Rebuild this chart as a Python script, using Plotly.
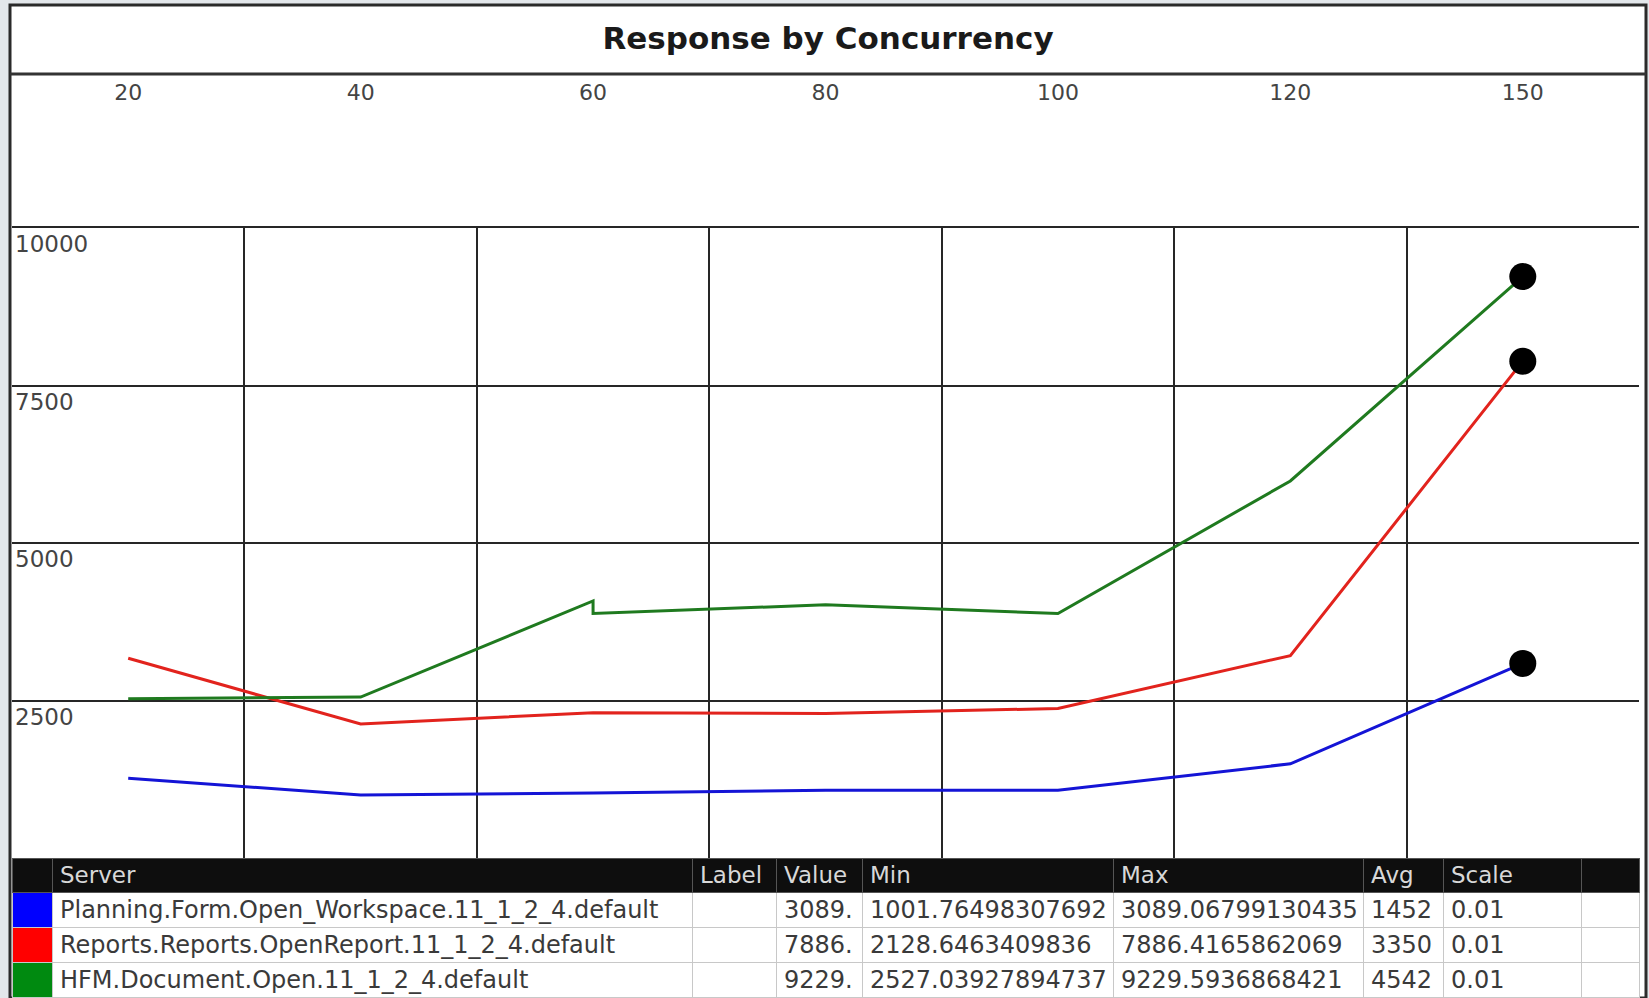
import plotly.graph_objects as go

W, H = 1649, 998

# ---------------- data ----------------
concurrency = ["20", "40", "60", "80", "100", "120", "150"]
blue_vals = [1267, 1000, 1030, 1076, 1076, 1495, 3089]
red_vals = [3170, 2128, 2305, 2294, 2373, 3212, 7886]
green_x = ["20", "40", "60", "60", "80", "100", "120", "150"]
green_vals = [2527, 2555, 4080, 3880, 4019, 3880, 5985, 9229]

y_ticks = [2500, 5000, 7500, 10000]

servers = ["Planning.Form.Open_Workspace.11_1_2_4.default",
           "Reports.Reports.OpenReport.11_1_2_4.default",
           "HFM.Document.Open.11_1_2_4.default"]
labels_col = ["", "", ""]
value_col = ["3089.", "7886.", "9229."]
min_col = ["1001.76498307692", "2128.6463409836", "2527.03927894737"]
max_col = ["3089.06799130435", "7886.4165862069", "9229.5936868421"]
avg_col = ["1452", "3350", "4542"]
scale_col = ["0.01", "0.01", "0.01"]
header = ["", "Server", "Label", "Value", "Min", "Max", "Avg", "Scale", ""]

line_colors = ["#1414d6", "#e2231d", "#1f7a1f"]
swatch_colors = ["#0000ff", "#ff0000", "#008a10"]

# ---------------- layout constants (pixels) ----------------
PX_L, PX_R = 12, 1639          # plot left/right
PX_T, PX_B = 228, 858          # plot top/bottom
FRAME_L, FRAME_R, FRAME_T = 10, 1646, 5
TITLE_LINE = 74

def fx(px):
    return px / W

def fy(py):
    return 1 - py / H

fig = go.Figure()

fig.add_trace(go.Scatter(x=concurrency, y=blue_vals, mode="lines",
                         line=dict(color=line_colors[0], width=3), name=servers[0]))
fig.add_trace(go.Scatter(x=concurrency, y=red_vals, mode="lines",
                         line=dict(color=line_colors[1], width=3), name=servers[1]))
fig.add_trace(go.Scatter(x=green_x, y=green_vals, mode="lines",
                         line=dict(color=line_colors[2], width=3), name=servers[2]))

# end markers at the last point of each series
fig.add_trace(go.Scatter(x=[concurrency[-1], concurrency[-1], green_x[-1]],
                         y=[blue_vals[-1], red_vals[-1], green_vals[-1]],
                         mode="markers", marker=dict(color="black", size=27),
                         showlegend=False))

# table
col_widths = [40, 640, 84, 86, 251, 250, 80, 138, 58]
cells_values = [["", "", ""], servers, labels_col, value_col, min_col,
                max_col, avg_col, scale_col, ["", "", ""]]
fill_colors = [swatch_colors] + [["white"] * 3 for _ in range(8)]
fig.add_trace(go.Table(
    domain=dict(x=[fx(PX_L), fx(PX_R)], y=[0, fy(PX_B)]),
    columnwidth=col_widths,
    header=dict(values=header, fill_color="#0e0e0e",
                line=dict(color="#555555", width=1),
                font=dict(family="DejaVu Sans", size=23, color="#d8d8d8"),
                align="left", height=34),
    cells=dict(values=cells_values, fill_color=fill_colors,
               line=dict(color="#c8c8c8", width=1),
               font=dict(family="DejaVu Sans", size=24, color="#3a3a3a"),
               align="left", height=35),
))

fig.update_layout(
    width=W, height=H, autosize=False,
    margin=dict(l=0, r=0, t=0, b=0),
    paper_bgcolor="#e3e7eb",
    plot_bgcolor="white",
    showlegend=False,
    hovermode=False,
    title=dict(text="<b>Response by Concurrency</b>", x=fx((FRAME_L + FRAME_R) / 2),
               xanchor="center", y=fy(38), yanchor="middle",
               font=dict(family="DejaVu Sans", size=31, color="#1a1a1a")),
    xaxis=dict(type="category", categoryorder="array", categoryarray=concurrency,
               range=[-0.5, len(concurrency) - 0.5],
               domain=[fx(PX_L), fx(PX_R)],
               side="top", tickson="boundaries", ticks="",
               showgrid=True, gridcolor="#262626", gridwidth=2,
               showline=True, linecolor="#262626", linewidth=2,
               ticklabelstandoff=117,
               tickfont=dict(family="DejaVu Sans", size=22, color="#444444"),
               zeroline=False, fixedrange=True),
    yaxis=dict(range=[0, 10000], domain=[fy(PX_B), fy(PX_T)],
               tickvals=y_ticks, tickformat="d", ticks="",
               ticklabelposition="inside bottom",
               showgrid=True, gridcolor="#262626", gridwidth=2,
               tickfont=dict(family="DejaVu Sans", size=23, color="#444444"),
               zeroline=False, showline=False, fixedrange=True),
    shapes=[
        dict(type="rect", xref="paper", yref="paper",
             x0=fx(FRAME_L), x1=fx(FRAME_R), y0=0, y1=fy(FRAME_T),
             fillcolor="white", line=dict(color="#2a2a2a", width=3), layer="below"),
        dict(type="line", xref="paper", yref="paper",
             x0=fx(FRAME_L), x1=fx(FRAME_R), y0=fy(TITLE_LINE), y1=fy(TITLE_LINE),
             line=dict(color="#333333", width=3)),
    ],
)

fig.write_html("out.html", config={"displayModeBar": False},
               post_script="document.body.style.margin='0px';document.body.style.overflow='hidden';")
